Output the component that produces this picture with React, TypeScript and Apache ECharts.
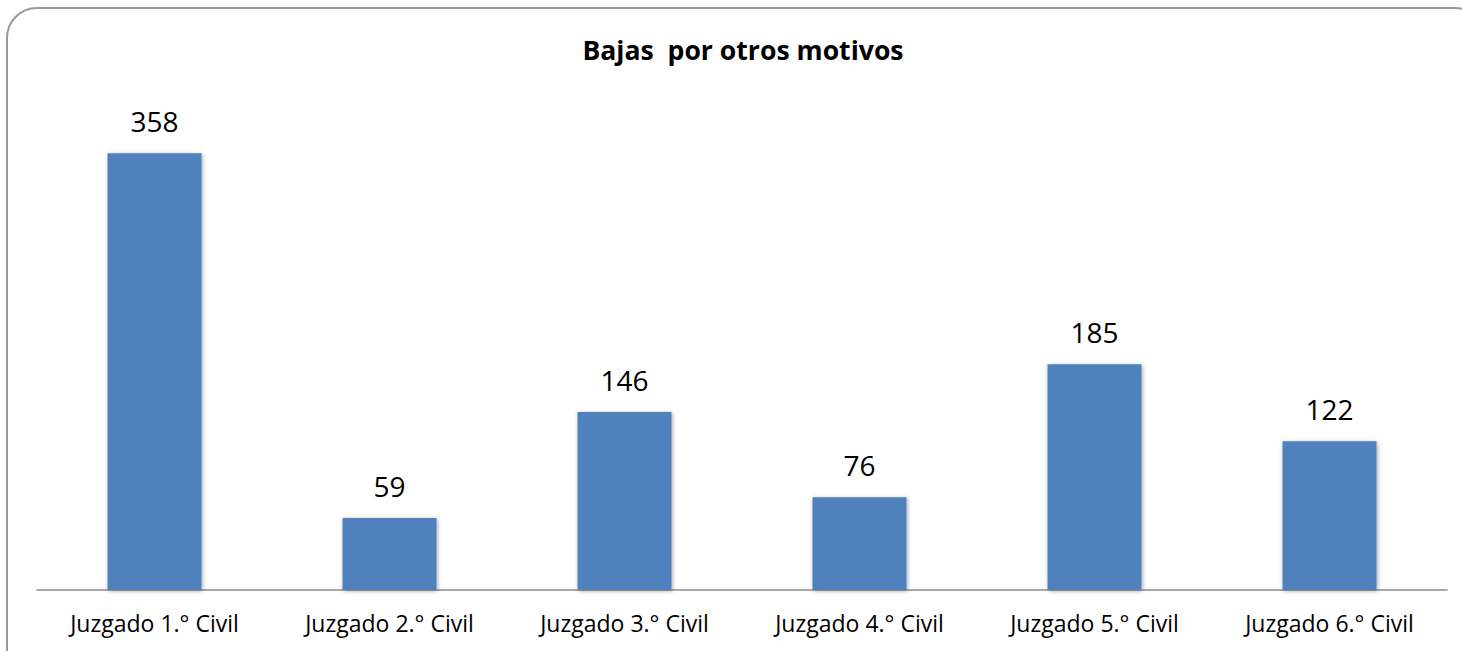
import React, { useEffect, useRef } from "react";
import * as echarts from "echarts";

const categories = [
  "Juzgado 1.° Civil",
  "Juzgado 2.° Civil",
  "Juzgado 3.° Civil",
  "Juzgado 4.° Civil",
  "Juzgado 5.° Civil",
  "Juzgado 6.° Civil",
];
const values = [358, 59, 146, 76, 185, 122];
const titleText = "Bajas  por otros motivos";

const FONT = "'Open Sans'";

export default function App() {
  const ref = useRef<HTMLDivElement>(null);
  useEffect(() => {
    if (!ref.current) return;
    const chart = echarts.init(ref.current, undefined, { renderer: "svg" });
    chart.setOption({
      animation: false,
      backgroundColor: "#ffffff",
      title: {
        text: titleText,
        left: 738,
        textAlign: "center",
        top: 31,
        textStyle: { fontFamily: FONT, fontWeight: "bold", fontSize: 26.6, color: "#000" },
      },
      graphic: [
        {
          type: "rect",
          shape: { x: 7, y: 8, width: 1478, height: 690, r: 30 },
          style: { fill: "none", stroke: "#999999", lineWidth: 2 },
          z: 100,
          silent: true,
        },
      ],
      grid: { left: 37, right: 15, top: 102, bottom: 61 },
      xAxis: {
        type: "category",
        data: categories,
        axisLine: { show: true, lineStyle: { color: "#8c8c8c", width: 1.5 } },
        axisTick: { show: false },
        axisLabel: { fontFamily: FONT, fontSize: 23, color: "#000", margin: 21 },
      },
      yAxis: {
        type: "value",
        min: 0,
        max: 400,
        show: false,
        splitLine: { show: false },
      },
      series: [
        {
          type: "bar",
          data: values,
          barWidth: "40%",
          itemStyle: {
            color: "#4F81BD",
            shadowColor: "rgba(0,0,0,0.35)",
            shadowBlur: 4,
            shadowOffsetX: 1,
            shadowOffsetY: 1,
          },
          label: {
            show: true,
            position: "top",
            distance: 18,
            fontFamily: FONT,
            fontSize: 28,
            color: "#000",
          },
        },
      ],
    });
    return () => chart.dispose();
  }, []);
  return (
    <div
      ref={ref}
      style={{ position: "fixed", left: 0, top: 0, width: 1462, height: 651 }}
    />
  );
}
